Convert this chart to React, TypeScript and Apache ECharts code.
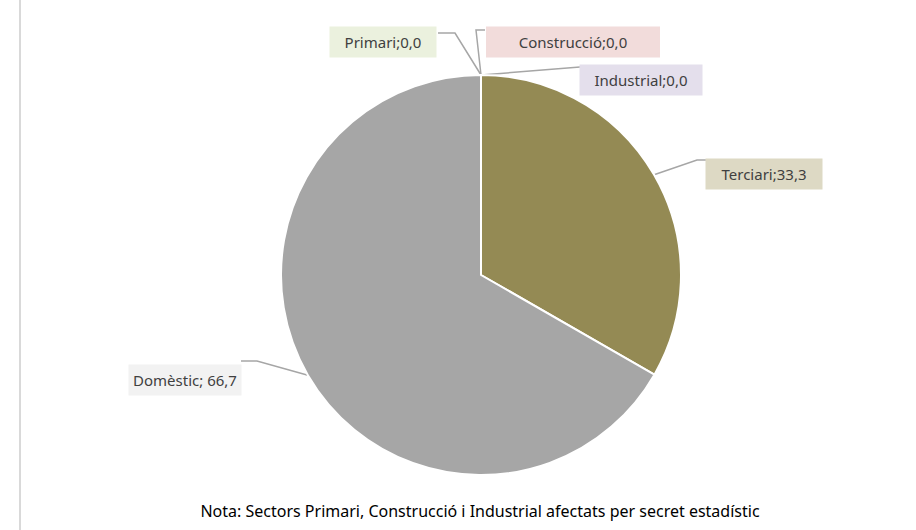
import React, { useEffect, useRef } from "react";
import * as echarts from "echarts";

const categories = ["Primari", "Construcció", "Industrial", "Terciari", "Domèstic"];
const values = [0.0, 0.0, 0.0, 33.3, 66.7];
const sliceColors = ["#9BBB59", "#C0504D", "#8064A2", "#948A54", "#A6A6A6"];
const labelBackgrounds = ["#EBF1DE", "#F2DCDB", "#E4DFEC", "#DDD9C4", "#F2F2F2"];
const noteText = "Nota: Sectors Primari, Construcció i Industrial afectats per secret estadístic";

// label placement (styling): center of each label box, box width, and label-line elbow points
const labelCenters = [
  [383, 42],
  [573, 42],
  [641, 80],
  [764, 174],
  [185, 380],
];
const labelBoxWidths = [107, 174, 123, 117, 113];
const labelElbows = [
  [[455, 33], [438, 33]],
  [[476, 30], [485, 30]],
  [[580, 67], [580, 67]],
  [[697, 160], [706, 160]],
  [[257, 361], [241, 361]],
];

function fmt(v: number) {
  return v.toFixed(1).replace(".", ",");
}

export default function App() {
  const ref = useRef<HTMLDivElement>(null);
  useEffect(() => {
    document.body.style.margin = "0";
    const chart = echarts.init(ref.current!, null, { renderer: "svg" });
    const data = categories.map((name, i) => ({
      name,
      value: values[i],
      itemStyle: { color: sliceColors[i] },
      label: {
        backgroundColor: labelBackgrounds[i],
        padding: [7, 4],
        width: labelBoxWidths[i] - 8,
        overflow: "none",
      },
    }));
    chart.setOption({
      animation: false,
      backgroundColor: "#ffffff",
      graphic: [
        {
          type: "line",
          shape: { x1: 20, y1: 0, x2: 20, y2: 530 },
          style: { stroke: "#D9D9D9", lineWidth: 2 },
        },
        {
          type: "text",
          x: 480,
          y: 511,
          style: {
            text: noteText,
            fill: "#000000",
            font: "16px 'Noto Sans'",
            align: "center",
            verticalAlign: "middle",
          },
        },
      ],
      series: [
        {
          type: "pie",
          center: [481, 275],
          radius: [0, 200],
          startAngle: 90,
          clockwise: true,
          avoidLabelOverlap: false,
          minShowLabelAngle: 0,
          itemStyle: { borderColor: "#ffffff", borderWidth: 2 },
          label: {
            show: true,
            position: "outside",
            color: "#404040",
            fontFamily: "Noto Sans",
            fontSize: 15,
            lineHeight: 17,
            overflow: "none",
            formatter: (p: any) =>
              p.dataIndex === 4 ? `${p.name}; ${fmt(p.value)}` : `${p.name};${fmt(p.value)}`,
          },
          labelLine: {
            show: true,
            lineStyle: { color: "#A6A6A6", width: 1.5 },
          },
          labelLayout: (params: any) => {
            const i = params.dataIndex;
            const start =
              params.labelLinePoints && params.labelLinePoints[0]
                ? params.labelLinePoints[0]
                : [481, 75];
            return {
              x: labelCenters[i][0],
              y: labelCenters[i][1],
              align: "center",
              verticalAlign: "middle",
              labelLinePoints: [start, labelElbows[i][0], labelElbows[i][1]],
            };
          },
          data,
        },
      ],
    });
    return () => chart.dispose();
  }, []);
  return <div ref={ref} style={{ width: 916, height: 530 }} />;
}
